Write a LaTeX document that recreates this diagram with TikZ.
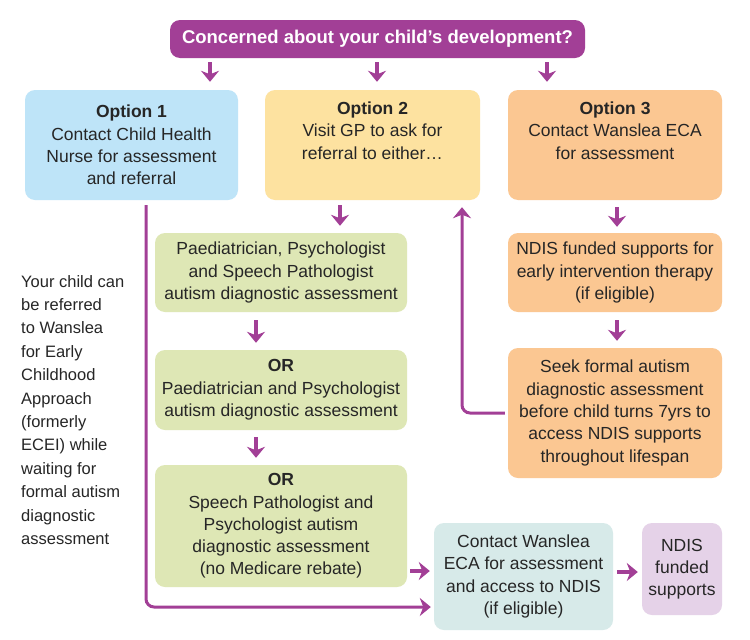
\documentclass[tikz,border=0pt]{standalone}
\usepackage{fontspec}
\setmainfont{Liberation Sans}
\usetikzlibrary{arrows.meta}
\definecolor{wpurple}{HTML}{A23F96}
\definecolor{wblue}{HTML}{BEE4F8}
\definecolor{wyellow}{HTML}{FDE2A0}
\definecolor{worange}{HTML}{FBC792}
\definecolor{wgreen}{HTML}{DEE7B5}
\definecolor{wteal}{HTML}{D7EAE9}
\definecolor{wlilac}{HTML}{E5D2E8}
\definecolor{wtext}{HTML}{262626}
\tikzset{
  box/.style={rounded corners=10pt, align=center, inner sep=0pt, text=wtext,
    font=\fontsize{17.5}{22.3}\selectfont},
  arr/.style={draw=wpurple, line width=3.8pt,
    -{Stealth[length=11pt,width=18pt,inset=3.5pt]}},
  route/.style={draw=wpurple, line width=3pt, rounded corners=8pt,
    -{Stealth[length=11pt,width=18pt,inset=3.5pt]}},
}
\begin{document}
\begin{tikzpicture}[x=1pt,y=-1pt]
\useasboundingbox (0,0) rectangle (750,640);
\fill[white] (0,0) rectangle (750,640);

\node[box, fill=wpurple, minimum width=415pt, minimum height=38pt, text=white,
  font=\fontsize{18.5}{20}\selectfont\bfseries] (top) at (377.5,39)
  {Concerned about your child’s development?};

\node[box, fill=wblue, minimum width=213pt, minimum height=110pt] (opt1) at (131.5,145)
  {\textbf{Option 1}\\Contact Child Health\\Nurse for assessment\\and referral};
\node[box, fill=wyellow, minimum width=215pt, minimum height=110pt] (opt2) at (372.5,145)
  {\textbf{Option 2}\\Visit GP to ask for\\referral to either…\\\strut};
\node[box, fill=worange, minimum width=214pt, minimum height=110pt] (opt3) at (615,145)
  {\textbf{Option 3}\\Contact Wanslea ECA\\for assessment\\\strut};

\node[box, fill=wgreen, minimum width=252pt, minimum height=79pt] (g1) at (281,272.5)
  {Paediatrician, Psychologist\\and Speech Pathologist\\autism diagnostic assessment};
\node[box, fill=wgreen, minimum width=252pt, minimum height=80pt] (g2) at (281,390)
  {\textbf{OR}\\Paediatrician and Psychologist\\autism diagnostic assessment};
\node[box, fill=wgreen, minimum width=252pt, minimum height=122pt] (g3) at (281,526)
  {\textbf{OR}\\Speech Pathologist and\\Psychologist autism\\diagnostic assessment\\(no Medicare rebate)};

\node[box, fill=worange, minimum width=214pt, minimum height=79pt] (o2) at (615,272.5)
  {NDIS funded supports for\\early intervention therapy\\(if eligible)};
\node[box, fill=worange, minimum width=214pt, minimum height=130pt] (o3) at (615,413)
  {Seek formal autism\\diagnostic assessment\\before child turns 7yrs to\\access NDIS supports\\throughout lifespan};

\node[box, fill=wteal, minimum width=179pt, minimum height=107pt] (teal) at (523.5,576.5)
  {Contact Wanslea\\ECA for assessment\\and access to NDIS\\(if eligible)};
\node[box, fill=wlilac, minimum width=80pt, minimum height=92pt] (lilac) at (682,569)
  {NDIS\\funded\\supports};

\node[anchor=north west, align=left, inner sep=0pt, text=wtext,
  font=\fontsize{16.5}{23.4}\selectfont] (side) at (21,275)
  {Your child can\\be referred\\to Wanslea\\for Early\\Childhood\\Approach\\(formerly\\ECEI) while\\waiting for\\formal autism\\diagnostic\\assessment};

% top arrows
\coordinate (a1) at (210,0);
\coordinate (a2) at (377,0);
\coordinate (a3) at (547,0);
\draw[arr, shorten <=4pt, shorten >=8pt] (top.south -| a1) -- (opt1.north -| a1);
\draw[arr, shorten <=4pt, shorten >=8pt] (top.south -| a2) -- (opt2.north -| a2);
\draw[arr, shorten <=4pt, shorten >=8pt] (top.south -| a3) -- (opt3.north -| a3);

% option 2 column
\coordinate (b1) at (340,0);
\coordinate (b2) at (256,0);
\draw[arr, shorten <=5pt, shorten >=7pt] (opt2.south -| b1) -- (g1.north -| b1);
\draw[arr, shorten <=8pt, shorten >=7pt] (g1.south -| b2) -- (g2.north -| b2);
\draw[arr, shorten <=7pt, shorten >=7pt] (g2.south -| b2) -- (g3.north -| b2);

% option 3 column
\coordinate (c1) at (617,0);
\draw[arr, shorten <=7pt, shorten >=6pt] (opt3.south -| c1) -- (o2.north -| c1);
\draw[arr, shorten <=8pt, shorten >=7pt] (o2.south -| c1) -- (o3.north -| c1);

% return arrow to option 2
\coordinate (r1) at (462,413);
\draw[route, shorten <=3pt, shorten >=7pt] (o3.west |- r1) -- (r1) -- (r1 |- opt2.south);

% option 1 long route
\coordinate (l1) at (146,607);
\draw[route, shorten <=5pt, shorten >=3pt] (opt1.south -| l1) -- (l1) -- (teal.west |- l1);

% horizontal arrows
\coordinate (h1) at (0,571);
\coordinate (h2) at (0,572);
\draw[arr, shorten <=3pt, shorten >=4pt] (g3.east |- h1) -- (teal.west |- h1);
\draw[arr, shorten <=4pt, shorten >=4pt] (teal.east |- h2) -- (lilac.west |- h2);
\end{tikzpicture}
\end{document}
